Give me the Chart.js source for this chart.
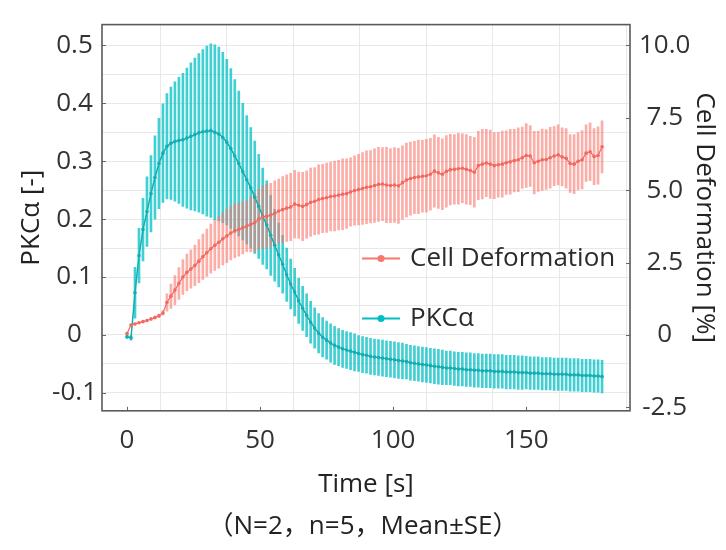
<!DOCTYPE html>
<html>
<head>
<meta charset="utf-8">
<script src="https://cdn.jsdelivr.net/npm/chart.js@4.4.1/dist/chart.umd.min.js"></script>
<style>
    html, body { margin: 0; padding: 0; background: #fff; }
    canvas { display: block; }
</style>
</head>
<body>
<canvas id="grafico" width="726" height="550"></canvas>
<script>
// tiempo [s]
const tiempos = [
    0, 1.5, 3, 4.5, 6, 7.5, 9, 10.5, 12, 13.5,
    15, 16.5, 18, 19.5, 21, 22.5, 24, 25.5, 27, 28.5,
    30, 31.5, 33, 34.5, 36, 37.5, 39, 40.5, 42, 43.5,
    45, 46.5, 48, 49.5, 51, 52.5, 54, 55.5, 57, 58.5,
    60, 61.5, 63, 64.5, 66, 67.5, 69, 70.5, 72, 73.5,
    75, 76.5, 78, 79.5, 81, 82.5, 84, 85.5, 87, 88.5,
    90, 91.5, 93, 94.5, 96, 97.5, 99, 100.5, 102, 103.5,
    105, 106.5, 108, 109.5, 111, 112.5, 114, 115.5, 117, 118.5,
    120, 121.5, 123, 124.5, 126, 127.5, 129, 130.5, 132, 133.5,
    135, 136.5, 138, 139.5, 141, 142.5, 144, 145.5, 147, 148.5,
    150, 151.5, 153, 154.5, 156, 157.5, 159, 160.5, 162, 163.5,
    165, 166.5, 168, 169.5, 171, 172.5, 174, 175.5, 177, 178.5,
];

// PKCα [-] (media y error estándar)
const pkcMedia = [
    -0.003, -0.005, 0.073, 0.137, 0.182, 0.213, 0.244, 0.272, 0.296, 0.314,
    0.326, 0.331, 0.334, 0.336, 0.337, 0.340, 0.343, 0.346, 0.349, 0.351,
    0.352, 0.353, 0.350, 0.347, 0.341, 0.333, 0.322, 0.309, 0.296, 0.282,
    0.268, 0.254, 0.238, 0.222, 0.205, 0.190, 0.172, 0.155, 0.138, 0.122,
    0.104, 0.088, 0.074, 0.059, 0.046, 0.034, 0.022, 0.012, 0.003, -0.004,
    -0.009, -0.014, -0.018, -0.021, -0.024, -0.026, -0.028, -0.030, -0.032, -0.034,
    -0.035, -0.037, -0.038, -0.039, -0.040, -0.041, -0.042, -0.043, -0.044, -0.045,
    -0.046, -0.048, -0.049, -0.050, -0.051, -0.052, -0.053, -0.054, -0.055, -0.056,
    -0.057, -0.057, -0.058, -0.059, -0.059, -0.060, -0.060, -0.061, -0.061, -0.062,
    -0.062, -0.062, -0.063, -0.063, -0.063, -0.064, -0.064, -0.064, -0.065, -0.065,
    -0.065, -0.066, -0.066, -0.066, -0.067, -0.067, -0.067, -0.068, -0.068, -0.068,
    -0.068, -0.069, -0.069, -0.069, -0.070, -0.070, -0.070, -0.071, -0.071, -0.072,
];
const pkcError = [
    0.003, 0.004, 0.044, 0.047, 0.054, 0.060, 0.066, 0.072, 0.078, 0.085,
    0.091, 0.097, 0.103, 0.109, 0.115, 0.121, 0.127, 0.132, 0.137, 0.142,
    0.147, 0.150, 0.151, 0.150, 0.147, 0.143, 0.138, 0.132, 0.125, 0.118,
    0.111, 0.104, 0.097, 0.090, 0.083, 0.076, 0.069, 0.062, 0.055, 0.050,
    0.046, 0.043, 0.041, 0.039, 0.038, 0.037, 0.036, 0.035, 0.034, 0.034,
    0.033, 0.033, 0.033, 0.032, 0.032, 0.032, 0.032, 0.032, 0.031, 0.031,
    0.031, 0.031, 0.031, 0.031, 0.031, 0.031, 0.031, 0.031, 0.031, 0.031,
    0.030, 0.030, 0.030, 0.030, 0.030, 0.030, 0.030, 0.030, 0.030, 0.030,
    0.029, 0.029, 0.029, 0.029, 0.029, 0.029, 0.029, 0.029, 0.029, 0.029,
    0.029, 0.029, 0.029, 0.029, 0.029, 0.029, 0.029, 0.029, 0.029, 0.029,
    0.028, 0.028, 0.028, 0.028, 0.028, 0.028, 0.028, 0.028, 0.028, 0.028,
    0.028, 0.028, 0.028, 0.028, 0.028, 0.028, 0.028, 0.028, 0.028, 0.028,
];

// Deformación celular [%] (media y error estándar)
const deformMedia = [
    0.05, 0.34, 0.38, 0.42, 0.46, 0.50, 0.55, 0.60, 0.66, 0.76,
    1.12, 1.34, 1.55, 1.78, 2.00, 2.16, 2.28, 2.40, 2.55, 2.70,
    2.84, 2.98, 3.10, 3.20, 3.32, 3.42, 3.52, 3.60, 3.64, 3.70,
    3.76, 3.82, 3.88, 4.00, 4.08, 4.10, 4.14, 4.20, 4.28, 4.33,
    4.38, 4.42, 4.52, 4.48, 4.44, 4.50, 4.58, 4.62, 4.68, 4.71,
    4.74, 4.78, 4.80, 4.83, 4.86, 4.88, 4.94, 4.99, 5.02, 5.06,
    5.10, 5.12, 5.16, 5.20, 5.21, 5.18, 5.16, 5.18, 5.15, 5.26,
    5.35, 5.40, 5.44, 5.46, 5.48, 5.50, 5.55, 5.66, 5.60, 5.55,
    5.65, 5.71, 5.72, 5.74, 5.76, 5.72, 5.68, 5.62, 5.85, 5.90,
    5.94, 5.90, 5.85, 5.88, 5.90, 5.95, 5.98, 6.02, 6.05, 6.12,
    6.20, 6.18, 5.95, 6.00, 6.05, 6.06, 6.12, 6.18, 6.22, 6.15,
    6.10, 5.92, 5.90, 6.00, 6.05, 6.28, 6.33, 6.16, 6.20, 6.50,
];
const deformError = [
    0.02, 0.03, 0.03, 0.03, 0.04, 0.04, 0.05, 0.05, 0.06, 0.08,
    0.30, 0.42, 0.50, 0.55, 0.60, 0.63, 0.66, 0.70, 0.74, 0.78,
    0.82, 0.85, 0.87, 0.89, 0.90, 0.92, 0.93, 0.93, 0.92, 0.90,
    0.88, 0.95, 1.00, 1.05, 1.08, 1.10, 1.10, 1.12, 1.10, 1.14,
    1.15, 1.16, 1.17, 1.15, 1.18, 1.17, 1.18, 1.16, 1.20, 1.18,
    1.20, 1.19, 1.21, 1.20, 1.22, 1.20, 1.18, 1.20, 1.22, 1.24,
    1.26, 1.25, 1.27, 1.28, 1.26, 1.30, 1.28, 1.29, 1.30, 1.27,
    1.28, 1.26, 1.25, 1.27, 1.24, 1.26, 1.24, 1.25, 1.23, 1.22,
    1.24, 1.22, 1.20, 1.22, 1.19, 1.20, 1.18, 1.21, 1.18, 1.20,
    1.16, 1.18, 1.14, 1.12, 1.14, 1.10, 1.12, 1.08, 1.10, 1.06,
    1.10, 1.05, 1.08, 1.04, 1.06, 1.03, 1.05, 1.02, 1.04, 1.00,
    1.03, 1.00, 1.02, 0.99, 1.01, 0.98, 1.00, 0.97, 0.99, 0.90,
];

// etiquetas de los ejes
const ticksTiempo = [0, 50, 100, 150];
const ticksPkc = [-0.1, 0, 0.1, 0.2, 0.3, 0.4, 0.5];
const ticksDeform = [-2.5, 0, 2.5, 5, 7.5, 10];

const ROJO = "#f8766d";
const TURQUESA = "#00bfc4";
const FUENTE = "'Open Sans', 'Noto Sans CJK SC', sans-serif";

Chart.defaults.font.family = FUENTE;
Chart.defaults.color = "#333";

const puntos = (medias) => tiempos.map((t, i) => ({ x: t, y: medias[i] }));
const barras = (medias, errores) => tiempos.map((t, i) => ({ x: t, y: [medias[i] - errores[i], medias[i] + errores[i]] }));
const enLista = (lista, v) => lista.some((l) => Math.abs(l - v) < 1e-6);
const formato = (v) => (Math.abs(v) < 1e-9 ? "0" : v.toFixed(1));

// marco, marcas interiores y leyenda dentro del área
const marcoYLeyenda = {
    id: "marcoYLeyenda",
    afterDraw(chart) {
        const { ctx, chartArea: a, scales } = chart;
        ctx.save();
        ctx.strokeStyle = "#666";
        ctx.lineWidth = 1;
        ctx.beginPath();
        ticksTiempo.forEach((v) => {
            const x = Math.round(scales.x.getPixelForValue(v)) + 0.5;
            ctx.moveTo(x, a.bottom); ctx.lineTo(x, a.bottom - 4);
        });
        ticksPkc.forEach((v) => {
            const y = Math.round(scales.y.getPixelForValue(v)) + 0.5;
            ctx.moveTo(a.left, y); ctx.lineTo(a.left + 4, y);
        });
        ticksDeform.forEach((v) => {
            const y = Math.round(scales.y2.getPixelForValue(v)) + 0.5;
            ctx.moveTo(a.right, y); ctx.lineTo(a.right - 4, y);
        });
        ctx.stroke();

        ctx.strokeStyle = "#5a5a5a";
        ctx.lineWidth = 1.6;
        ctx.strokeRect(a.left, a.top, a.width, a.height);

        const items = [
            { texto: "Cell Deformation", color: ROJO },
            { texto: "PKCα", color: TURQUESA },
        ];
        const x0 = a.left + 260;
        items.forEach((it, i) => {
            const y = a.top + 234 + i * 60;
            ctx.strokeStyle = it.color;
            ctx.lineWidth = 2;
            ctx.beginPath();
            ctx.moveTo(x0, y); ctx.lineTo(x0 + 38, y);
            ctx.stroke();
            ctx.fillStyle = it.color;
            ctx.beginPath();
            ctx.arc(x0 + 19, y, 3.5, 0, Math.PI * 2);
            ctx.fill();
            ctx.fillStyle = "#2b2b2b";
            ctx.font = "26px " + FUENTE;
            ctx.textAlign = "left";
            ctx.textBaseline = "middle";
            ctx.fillText(it.texto, x0 + 48, y);
        });
        ctx.restore();
    },
};

new Chart(document.getElementById("grafico"), {
    type: "line",
    data: {
        datasets: [
            { type: "bar", label: "PKCα SE", data: barras(pkcMedia, pkcError), yAxisID: "y", backgroundColor: "rgba(0,191,196,0.75)", barThickness: 2, grouped: false, borderWidth: 0, order: 4 },
            { type: "bar", label: "Cell Deformation SE", data: barras(deformMedia, deformError), yAxisID: "y2", backgroundColor: "rgba(248,118,109,0.6)", barThickness: 2, grouped: false, borderWidth: 0, order: 3 },
            { label: "PKCα", data: puntos(pkcMedia), yAxisID: "y", borderColor: "#12aeb2", backgroundColor: "#12aeb2", borderWidth: 1.5, pointRadius: 1.8, pointBorderWidth: 0, tension: 0, order: 2 },
            { label: "Cell Deformation", data: puntos(deformMedia), yAxisID: "y2", borderColor: "#ef6a61", backgroundColor: "#ef6a61", borderWidth: 1.2, pointRadius: 1.8, pointBorderWidth: 0, tension: 0, order: 1 },
        ],
    },
    options: {
        responsive: false,
        animation: false,
        devicePixelRatio: 1,
        layout: { padding: { top: 16, left: 0, right: 0, bottom: 0 } },
        plugins: {
            legend: { display: false },
            tooltip: { enabled: false },
            title: {
                display: true,
                position: "bottom",
                text: "（N=2，n=5，Mean±SE）",
                color: "#222",
                font: { size: 26, weight: "normal" },
                padding: { top: 0, bottom: 8 },
            },
        },
        scales: {
            x: {
                type: "linear",
                min: -9.4,
                max: 189,
                offset: false,
                afterFit: (s) => { s.height = 100; },
                grid: { color: "#e8e8e8", drawTicks: false },
                border: { display: false },
                ticks: {
                    stepSize: 25,
                    includeBounds: false,
                    padding: 14,
                    font: { size: 26 },
                    autoSkip: false,
                    maxRotation: 0,
                    callback: (v) => (enLista(ticksTiempo, v) ? String(v) : ""),
                },
                title: { display: true, text: "Time [s]", color: "#222", font: { size: 26 }, padding: { top: 0, bottom: 11 } },
            },
            y: {
                position: "left",
                min: -0.131,
                max: 0.536,
                afterFit: (s) => { s.width = 102; },
                grid: { color: "#e8e8e8", drawTicks: false },
                border: { display: false },
                ticks: {
                    stepSize: 0.05,
                    includeBounds: false,
                    padding: 5,
                    crossAlign: "center",
                    font: { size: 26 },
                    autoSkip: false,
                    callback: (v) => (enLista(ticksPkc, v) ? formato(v) : ""),
                },
                title: { display: true, text: "PKCα [-]", color: "#222", font: { size: 26 }, padding: { top: 16, bottom: 0 } },
            },
            y2: {
                position: "right",
                min: -2.62,
                max: 10.72,
                afterFit: (s) => { s.width = 96; },
                grid: { drawOnChartArea: false, drawTicks: false },
                border: { display: false },
                ticks: {
                    stepSize: 2.5,
                    includeBounds: false,
                    padding: 9,
                    crossAlign: "center",
                    font: { size: 26 },
                    autoSkip: false,
                    callback: (v) => (enLista(ticksDeform, v) ? formato(v) : ""),
                },
                title: { display: true, text: "Cell Deformation [%]", color: "#222", font: { size: 26 }, padding: { top: 6, bottom: 0 } },
            },
        },
    },
    plugins: [marcoYLeyenda],
});
</script>
</body>
</html>
